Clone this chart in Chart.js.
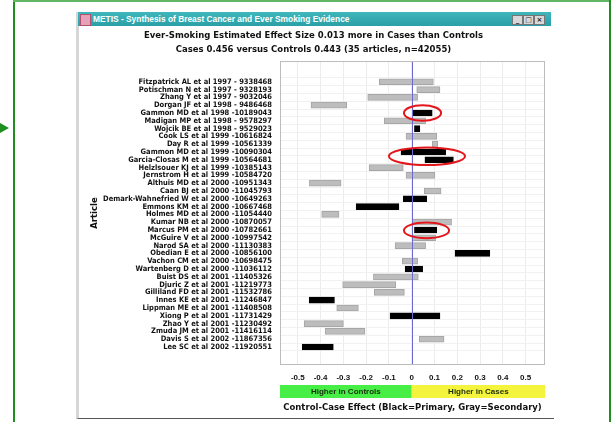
<!DOCTYPE html>
<html>
<head>
<meta charset="utf-8">
<script src="https://cdn.jsdelivr.net/npm/chart.js@4.4.1/dist/chart.umd.min.js"></script>
<style>
  html, body { margin: 0; padding: 0; background: #fff; }
  body { width: 613px; height: 422px; position: relative; overflow: hidden; font-family: "Liberation Sans", Arial, sans-serif; }
  #frameL { position: absolute; left: 13px; top: 0; width: 2px; height: 422px; background: #1f8f1f; }
  #frameT { position: absolute; left: 13px; top: 0; width: 598px; height: 2px; background: #62b862; }
  #frameR { position: absolute; left: 609px; top: 0; width: 2px; height: 422px; background: #1f8f1f; }
  #arrow { position: absolute; left: 0; top: 123px; width: 0; height: 0; border-top: 5px solid transparent; border-bottom: 5px solid transparent; border-left: 9px solid #1f8f1f; }
  #win { position: absolute; left: 76px; top: 12px; width: 475px; height: 406px; background: #fff; border-left: 3px solid #d6d6d6; border-bottom: 1px solid #555; }
  #titlebar { position: absolute; left: 78px; top: 12px; width: 473px; height: 14px; background: linear-gradient(#3fb7bb, #2a9fa6); }
  #icon { position: absolute; left: 80px; top: 14px; width: 9px; height: 10px; background: #e8a0b8; border: 1px solid #b05070; }
  #wtitle { position: absolute; left: 93px; top: 13px; font: bold 8.4px "Liberation Sans", Arial, sans-serif; color: #fff; line-height: 12px; white-space: nowrap; }
  .btn { position: absolute; top: 15px; width: 9px; height: 8px; background: #d8d8d8; border: 1px solid #777; font: bold 7px "DejaVu Sans", sans-serif; line-height: 8px; text-align: center; color: #222; }
  #wrap { position: absolute; left: 76px; top: 27px; width: 475px; height: 392px; }
</style>
</head>
<body>
<div id="frameL"></div><div id="frameT"></div><div id="frameR"></div><div id="arrow"></div>
<div id="win"></div>
<div id="titlebar"></div>
<div id="icon"></div>
<div id="wtitle">METIS - Synthesis of Breast Cancer and Ever Smoking Evidence</div>
<div class="btn" style="left:512px">_</div><div class="btn" style="left:523px">□</div><div class="btn" style="left:534px">×</div>
<div id="wrap"><canvas id="chart" width="475" height="392"></canvas></div>
<script>
const articles = [
  'Fitzpatrick AL et al 1997 - 9338468', 'Potischman N et al 1997 - 9328193', 'Zhang Y et al 1997 - 9032046',
  'Dorgan JF et al 1998 - 9486468', 'Gammon MD et al 1998 -10189043', 'Madigan MP et al 1998 - 9578297',
  'Wojcik BE et al 1998 - 9529023', 'Cook LS et al 1999 -10616824', 'Day R et al 1999 -10561339',
  'Gammon MD et al 1999 -10090304', 'Garcia-Closas M et al 1999 -10564681', 'Helzlsouer KJ et al 1999 -10385143',
  'Jernstrom H et al 1999 -10584720', 'Althuis MD et al 2000 -10951343', 'Caan BJ et al 2000 -11045793',
  'Demark-Wahnefried W et al 2000 -10649263', 'Emmons KM et al 2000 -10667468', 'Holmes MD et al 2000 -11054440',
  'Kumar NB et al 2000 -10870057', 'Marcus PM et al 2000 -10782661', 'McGuire V et al 2000 -10997542',
  'Narod SA et al 2000 -11130383', 'Obedian E et al 2000 -10856100', 'Vachon CM et al 2000 -10698475',
  'Wartenberg D et al 2000 -11036112', 'Buist DS et al 2001 -11405326', 'Djuric Z et al 2001 -11219773',
  'Gilliland FD et al 2001 -11532786', 'Innes KE et al 2001 -11246847', 'Lippman ME et al 2001 -11408508',
  'Xiong P et al 2001 -11731429', 'Zhao Y et al 2001 -11230492', 'Zmuda JM et al 2001 -11416114',
  'Davis S et al 2002 -11867356', 'Lee SC et al 2002 -11920551'
];
const lows = [-0.142, 0.022, -0.193, -0.442, 0.003, -0.120, 0.012, -0.025, 0.090, -0.047, 0.058, -0.187,
  -0.025, -0.449, 0.055, -0.037, -0.244, -0.395, 0.000, 0.012, 0.000, -0.073, 0.190, -0.041, -0.029,
  -0.168, -0.303, -0.164, -0.450, -0.329, -0.095, -0.472, -0.380, 0.033, -0.480];
const highs = [0.095, 0.124, 0.026, -0.285, 0.090, 0.061, 0.036, 0.110, 0.114, 0.149, 0.183, -0.037,
  0.102, -0.310, 0.129, 0.066, -0.056, -0.319, 0.175, 0.110, 0.105, 0.061, 0.343, 0.026, 0.048,
  0.029, -0.070, -0.032, -0.339, -0.234, 0.124, -0.300, -0.205, 0.142, -0.344];
// 1 = primary (black), 0 = secondary (gray)
const primary = [0, 0, 0, 0, 1, 0, 1, 0, 0, 1, 1, 0, 0, 0, 0, 1, 1, 0, 0, 1, 0, 0, 1, 0, 1,
  0, 0, 0, 1, 0, 1, 0, 0, 0, 1];
const xTicks = [-0.5, -0.4, -0.3, -0.2, -0.1, 0, 0.1, 0.2, 0.3, 0.4, 0.5];
// red circles drawn on the picture: row centre, span in rows, x range
const circled = [
  { row: 4, span: 2, from: -0.034, to: 0.129 },
  { row: 9.55, span: 2.25, from: -0.10, to: 0.234 },
  { row: 19.05, span: 2, from: -0.034, to: 0.164 }
];

const overlay = {
  id: 'overlay',
  afterDatasetsDraw(chart) {
    const { ctx, chartArea: a, scales: { x } } = chart;
    const x0 = Math.round(x.getPixelForValue(0)) + 0.5;
    ctx.save();
    ctx.strokeStyle = '#6a6ad0';
    ctx.lineWidth = 1;
    ctx.beginPath(); ctx.moveTo(x0, a.top); ctx.lineTo(x0, a.bottom); ctx.stroke();
    ctx.restore();
  },
  afterDraw(chart) {
    const { ctx, chartArea: a, scales: { x, y } } = chart;
    ctx.save();
    ctx.strokeStyle = '#bcbcbc';
    ctx.lineWidth = 1;
    ctx.strokeRect(a.left + 0.5, a.top + 0.5, a.width - 1, a.height - 1);

    const x0 = x.getPixelForValue(0);
    const by = a.bottom + 20, bh = 13;
    ctx.fillStyle = '#46ee46'; ctx.fillRect(a.left, by, x0 - a.left, bh);
    ctx.fillStyle = '#f4f43c'; ctx.fillRect(x0, by, a.right - x0, bh);
    ctx.fillStyle = '#1c2e10';
    ctx.font = 'bold 8px "Liberation Sans", Arial, sans-serif';
    ctx.textAlign = 'center'; ctx.textBaseline = 'middle';
    ctx.fillText('Higher in Controls', (a.left + x0) / 2, by + bh / 2 + 0.5);
    ctx.fillText('Higher in Cases', (x0 + a.right) / 2, by + bh / 2 + 0.5);

    ctx.strokeStyle = '#e3161b';
    ctx.lineWidth = 2;
    circled.forEach(function (c) {
      const l = x.getPixelForValue(c.from), r = x.getPixelForValue(c.to);
      const t = y.getPixelForValue(c.row - c.span / 2), b = y.getPixelForValue(c.row + c.span / 2);
      ctx.beginPath();
      ctx.ellipse((l + r) / 2, (t + b) / 2, (r - l) / 2, Math.abs(b - t) / 2, 0, 0, Math.PI * 2);
      ctx.stroke();
    });
    ctx.restore();
  }
};

new Chart(document.getElementById('chart'), {
  type: 'bar',
  data: {
    datasets: [{
      data: articles.map(function (_, i) { return { x: [lows[i], highs[i]], y: i }; }),
      backgroundColor: primary.map(function (p) { return p ? '#000000' : '#bdbdbd'; }),
      borderColor: primary.map(function (p) { return p ? '#000000' : '#a6a6a6'; }),
      borderWidth: 1,
      borderSkipped: false,
      barThickness: 6
    }]
  },
  plugins: [overlay],
  options: {
    indexAxis: 'y',
    responsive: false,
    animation: false,
    layout: { padding: { left: 6, right: 6, top: 0, bottom: 0 } },
    plugins: {
      legend: { display: false },
      tooltip: { enabled: false },
      title: {
        display: true,
        text: ['Ever-Smoking Estimated Effect Size 0.013 more in Cases than Controls',
               'Cases 0.456 versus Controls 0.443 (35 articles, n=42055)'],
        color: '#111',
        font: { family: '"DejaVu Sans", Verdana, sans-serif', size: 8.5, weight: 'bold', lineHeight: 1.65 },
        padding: { top: 2, bottom: 4 }
      }
    },
    scales: {
      x: {
        type: 'linear',
        min: -0.578,
        max: 0.585,
        afterFit: function (s) { s.height = 54; },
        afterBuildTicks: function (s) { s.ticks = xTicks.map(function (v) { return { value: v }; }); },
        ticks: {
          padding: 8,
          color: '#111',
          font: { family: '"Liberation Sans", Arial, sans-serif', size: 8, weight: 'bold' },
          callback: function (v) { return String(Math.round(v * 10) / 10); }
        },
        grid: { color: '#ececec', drawTicks: false },
        border: { display: false },
        title: {
          display: true,
          text: 'Control-Case Effect (Black=Primary, Gray=Secondary)',
          color: '#111',
          font: { family: '"DejaVu Sans", Verdana, sans-serif', size: 8.5, weight: 'bold' },
          padding: { top: 0, bottom: 6 }
        }
      },
      y: {
        type: 'linear',
        reverse: true,
        min: -2.1,
        max: 35.75,
        afterFit: function (s) { s.width = 198; },
        afterBuildTicks: function (s) { s.ticks = articles.map(function (_, i) { return { value: i }; }); },
        ticks: {
          autoSkip: false,
          padding: 8,
          color: '#111',
          font: { family: '"Liberation Sans Narrow", "DejaVu Sans Condensed", sans-serif', size: 7.5, weight: 'bold' },
          callback: function (v) { return articles[v]; }
        },
        grid: { color: '#f1f1f1', drawTicks: false },
        border: { display: false },
        title: {
          display: true,
          text: 'Article',
          color: '#111',
          font: { family: '"DejaVu Sans", Verdana, sans-serif', size: 8.5, weight: 'bold' },
          padding: { top: 8, bottom: 0 }
        }
      }
    }
  }
});
</script>
</body>
</html>
